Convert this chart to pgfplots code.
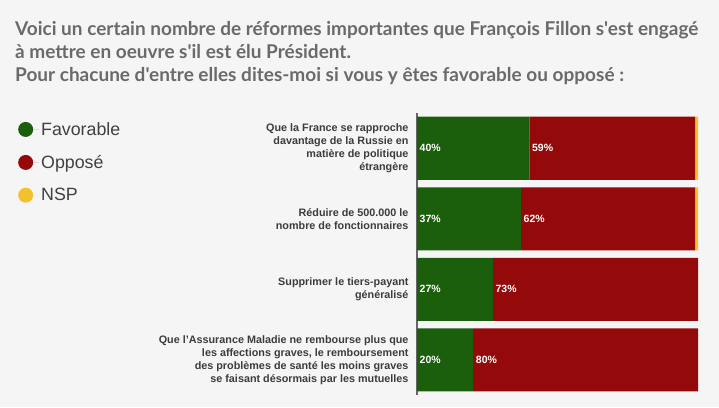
\documentclass[border=0pt]{standalone}
\usepackage{fontspec}
\setmainfont{Liberation Sans}
\newfontfamily\titlefont{Lato}
\usepackage{pgfplots}
\pgfplotsset{compat=1.18}
\definecolor{bg}{HTML}{F5F5F5}
\definecolor{fav}{HTML}{1B5E0C}
\definecolor{opp}{HTML}{940A0A}
\definecolor{nsp}{HTML}{F2C12E}
\definecolor{ttl}{HTML}{6A6A6A}
\definecolor{lbl}{HTML}{3C3C3C}
\begin{document}
\begin{tikzpicture}[x=1bp,y=1bp]
\fill[bg] (0,0) rectangle (719,407);
\useasboundingbox (0,0) rectangle (719,407);
\node[anchor=north west, align=left, text=ttl, font=\titlefont\bfseries\fontsize{19bp}{23bp}\selectfont, inner sep=0pt] at (15,386)
{Voici un certain nombre de réformes importantes que François Fillon s'est engagé\\
à mettre en oeuvre s'il est élu Président.\\
Pour chacune d'entre elles dites-moi si vous y êtes favorable ou opposé :};
\begin{axis}[
  at={(417bp,12bp)}, anchor=south west,
  scale only axis, width=281bp, height=282bp,
  xbar stacked, bar width=63bp,
  xmin=0, xmax=100, ymin=-0.5, ymax=3.5,
  axis x line=none, axis y line*=left,
  y axis line style={draw=black!60, line width=1.2pt, -},
  ytick={0,1,2,3}, major tick length=0pt,
  yticklabels={{Que l'Assurance Maladie ne rembourse plus que\\les affections graves, le remboursement\\des problèmes de santé les moins graves\\se faisant désormais par les mutuelles},
               {Supprimer le tiers-payant\\généralisé},
               {Réduire de 500.000 le\\nombre de fonctionnaires},
               {Que la France se rapproche\\davantage de la Russie en\\matière de politique\\étrangère}},
  yticklabel style={align=right, text=lbl, font=\bfseries\fontsize{10.8bp}{13bp}\selectfont, xshift=-5bp},
  legend cell align=left,
  legend style={at={(-1.42,0.975)}, anchor=north west, draw=none, fill=none,
     font=\fontsize{17.8bp}{20bp}\selectfont, text=black!75, row sep=14.5bp, inner sep=0pt},
]
\addplot[fill=fav, draw=none, legend image code/.code={\fill[fav] (7.5bp,0) circle (7.5bp); \path (0,0) -- (21bp,0);}] coordinates {(20,0) (27,1) (37,2) (40,3)};
\addplot[fill=opp, draw=none, legend image code/.code={\fill[opp] (7.5bp,0) circle (7.5bp); \path (0,0) -- (21bp,0);}] coordinates {(80,0) (73,1) (62,2) (59,3)};
\addplot[fill=nsp, draw=none, legend image code/.code={\fill[nsp] (7.5bp,0) circle (7.5bp); \path (0,0) -- (21bp,0);}] coordinates {(0,0) (0,1) (1,2) (1,3)};
\legend{Favorable, Opposé, NSP}
\end{axis}
\begin{axis}[
  at={(417bp,12bp)}, anchor=south west,
  scale only axis, width=281bp, height=282bp,
  xmin=0, xmax=100, ymin=-0.5, ymax=3.5, hide axis,
]
\addplot[only marks, mark=none, draw=none, nodes near coords, point meta=explicit symbolic,
  nodes near coords style={anchor=west, text=white, font=\bfseries\fontsize{10.5bp}{12bp}\selectfont, inner sep=0pt, xshift=2.5bp}]
  table[meta=lab] {
x y lab
0 3 40\%
40 3 59\%
0 2 37\%
37 2 62\%
0 1 27\%
27 1 73\%
0 0 20\%
20 0 80\%
};
\end{axis}
\end{tikzpicture}
\end{document}
